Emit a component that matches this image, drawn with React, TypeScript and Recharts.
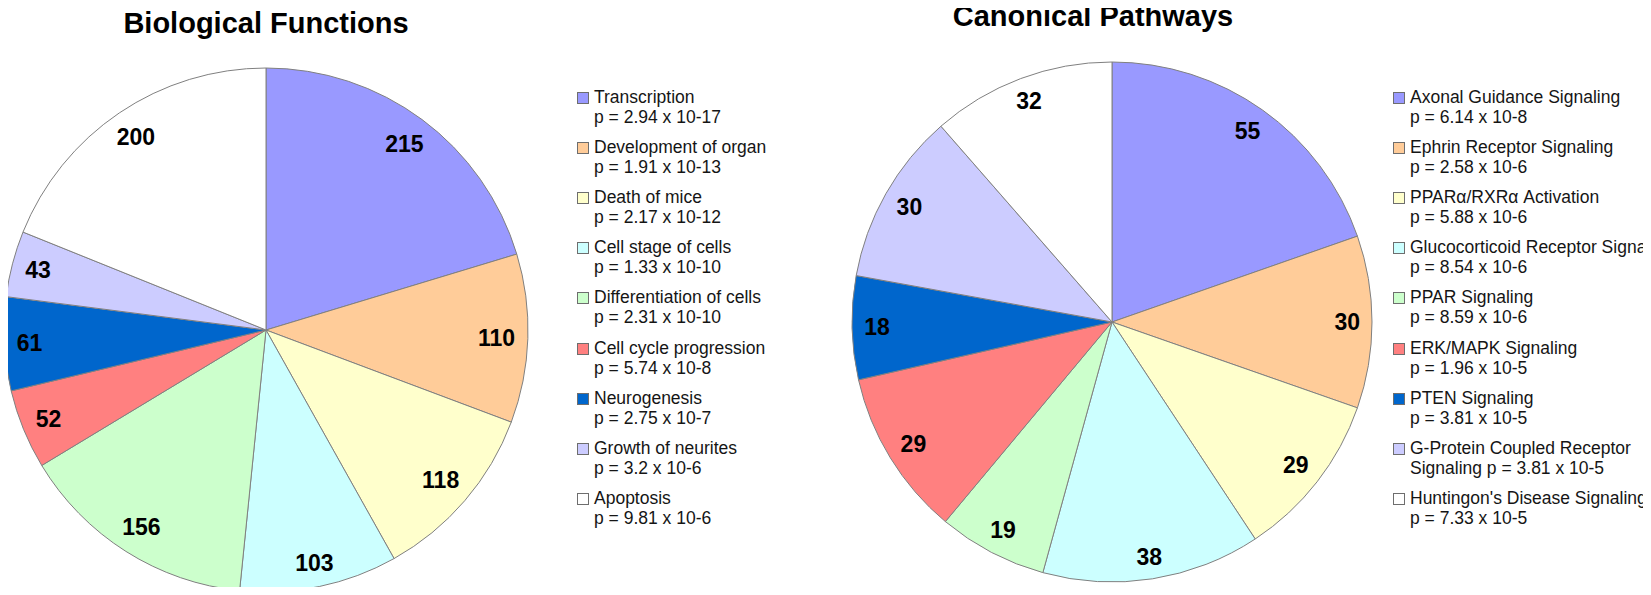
import React from "react";
import { PieChart, Pie, Cell } from "recharts";

// Excel-style palette shared by both pies
const sliceColors = [
  "#9999FF",
  "#FFCC99",
  "#FFFFCC",
  "#CCFFFF",
  "#CCFFCC",
  "#FF8080",
  "#0066CC",
  "#CCCCFF",
  "#FFFFFF",
];

const bioNames = [
  "Transcription",
  "Development of organ",
  "Death of mice",
  "Cell stage of cells",
  "Differentiation of cells",
  "Cell cycle progression",
  "Neurogenesis",
  "Growth of neurites",
  "Apoptosis",
];
const bioCounts = [215, 110, 118, 103, 156, 52, 61, 43, 200];
const bioPValues = [
  "2.94 x 10-17",
  "1.91 x 10-13",
  "2.17 x 10-12",
  "1.33 x 10-10",
  "2.31 x 10-10",
  "5.74 x 10-8",
  "2.75 x 10-7",
  "3.2 x 10-6",
  "9.81 x 10-6",
];

const pathNames = [
  "Axonal Guidance Signaling",
  "Ephrin Receptor Signaling",
  "PPARα/RXRα Activation",
  "Glucocorticoid Receptor Signaling",
  "PPAR Signaling",
  "ERK/MAPK Signaling",
  "PTEN Signaling",
  "G-Protein Coupled Receptor\nSignaling",
  "Huntingon's Disease Signaling",
];
const pathCounts = [55, 30, 29, 38, 19, 29, 18, 30, 32];
const pathPValues = [
  "6.14 x 10-8",
  "2.58 x 10-6",
  "5.88 x 10-6",
  "8.54 x 10-6",
  "8.59 x 10-6",
  "1.96 x 10-5",
  "3.81 x 10-5",
  "3.81 x 10-5",
  "7.33 x 10-5",
];

const FONT = '"Liberation Sans", Arial, Helvetica, sans-serif';
const RADIAN = Math.PI / 180;
const LABEL_SIZE = 23;

// labels sit just inside the rim, pulled in by the size of the text box (like Excel)
const renderLabel = (props: any) => {
  const { cx, cy, midAngle, outerRadius, value } = props;
  const cos = Math.cos(-midAngle * RADIAN);
  const sin = Math.sin(-midAngle * RADIAN);
  const hw = (String(value).length * 0.556 * LABEL_SIZE) / 2;
  const hh = 8;
  const r = outerRadius - 12 - (hw * Math.abs(cos) + hh * Math.abs(sin));
  return (
    <text
      x={cx + r * cos}
      y={cy + r * sin}
      textAnchor="middle"
      dominantBaseline="central"
      fill="#000"
      fontFamily={FONT}
      fontWeight="bold"
      fontSize={LABEL_SIZE}
    >
      {value}
    </text>
  );
};

const PieBlock = ({
  names,
  counts,
  left,
  width,
  cx,
  cy,
  radius,
}: {
  names: string[];
  counts: number[];
  left: number;
  width: number;
  cx: number;
  cy: number;
  radius: number;
}) => {
  const data = names.map((n, i) => ({ name: n, value: counts[i] }));
  return (
    <div style={{ position: "absolute", left, top: 0 }}>
      <PieChart width={width} height={595} margin={{ top: 0, right: 0, bottom: 0, left: 0 }}>
        <Pie
          data={data}
          dataKey="value"
          cx={cx}
          cy={cy}
          outerRadius={radius}
          startAngle={90}
          endAngle={-270}
          stroke="#808080"
          strokeWidth={1}
          label={renderLabel}
          labelLine={false}
          isAnimationActive={false}
        >
          {data.map((d, i) => (
            <Cell key={d.name} fill={sliceColors[i]} />
          ))}
        </Pie>
      </PieChart>
    </div>
  );
};

const LegendBlock = ({
  names,
  pValues,
  left,
}: {
  names: string[];
  pValues: string[];
  left: number;
}) => (
  <div style={{ position: "absolute", left, top: 0 }}>
    {names.map((n, i) => {
      const parts = n.split("\n");
      const line1 = parts[0];
      const line2 = (parts[1] ? parts[1] + " " : "") + "p = " + pValues[i];
      const top = 87 + i * 50.1;
      return (
        <div key={n} style={{ position: "absolute", left: 0, top, whiteSpace: "nowrap" }}>
          <div
            style={{
              position: "absolute",
              left: 0,
              top: 5,
              width: 10,
              height: 10,
              background: sliceColors[i],
              border: "1px solid #6e6e6e",
            }}
          />
          <div
            style={{
              position: "absolute",
              left: 17,
              top: 0,
              fontFamily: FONT,
              fontSize: 17.5,
              lineHeight: "20px",
              color: "#151515",
            }}
          >
            <div>{line1}</div>
            <div>{line2}</div>
          </div>
        </div>
      );
    })}
  </div>
);

const titleStyle: React.CSSProperties = {
  position: "absolute",
  width: 400,
  textAlign: "center",
  fontFamily: FONT,
  fontWeight: "bold",
  fontSize: 29,
  color: "#000",
};

export default function App() {
  return (
    <div
      style={{
        position: "relative",
        width: 1651,
        height: 595,
        margin: -8,
        overflow: "hidden",
        background: "#fff",
      }}
    >
      <div style={{ ...titleStyle, left: 266 - 200, top: 7 }}>Biological Functions</div>
      <div style={{ ...titleStyle, left: 1093 - 200, top: 0 }}>Canonical Pathways</div>

      <PieBlock names={bioNames} counts={bioCounts} left={0} width={540} cx={266} cy={330} radius={262} />
      <LegendBlock names={bioNames} pValues={bioPValues} left={577} />

      <PieBlock names={pathNames} counts={pathCounts} left={820} width={580} cx={292} cy={322} radius={260} />
      <LegendBlock names={pathNames} pValues={pathPValues} left={1393} />

      <div style={{ position: "absolute", left: 0, top: 593, width: 1651, height: 2, background: "#e9e9e9" }} />
    </div>
  );
}
